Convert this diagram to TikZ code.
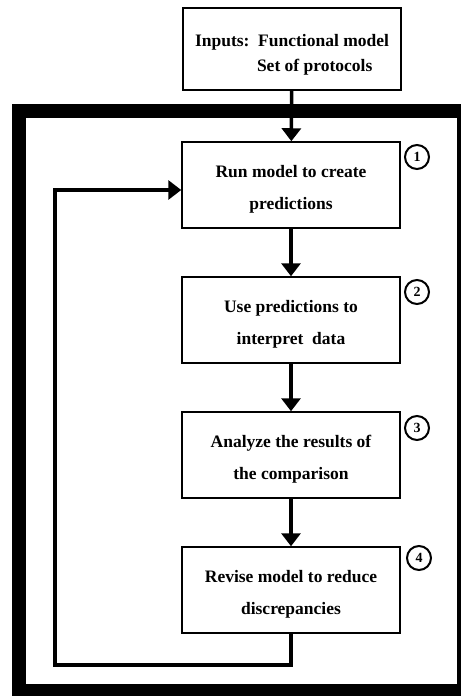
\documentclass[tikz,border=0pt]{standalone}
\usepackage{fontspec}
\setmainfont{Liberation Serif}
\usetikzlibrary{arrows.meta}

% pushes the text of a box a little down
\newcommand{\dropline}{\rule{0pt}{20pt}}

\tikzset{
  stepbox/.style={draw, line width=1.5pt, minimum width=218pt, minimum height=86pt,
    align=center, font=\bfseries\fontsize{17.5}{32}\selectfont},
  flow/.style={line width=3.5pt, -{Triangle[width=19pt,length=13pt]}},
  stepnum/.style={circle, draw, line width=2pt, inner sep=0pt, minimum size=24pt,
    font=\bfseries\fontsize{14}{14}\selectfont}
}

\begin{document}
\begin{tikzpicture}[x=1pt, y=-1pt]
    \useasboundingbox (0,0) rectangle (461,696);

    % Heavy frame round the loop
    \fill[black] (12,104) rectangle (461,696);
    \fill[white] (26,118) rectangle (457,684);

    % Input box
    \node[stepbox, minimum height=82pt, font=\bfseries\fontsize{17.5}{25}\selectfont, align=left]
      (inputs) at (292,49)
      {\rule{0pt}{24pt}Inputs:\ \ Functional model\\ \hspace*{62pt}Set of protocols};

    % Steps of the loop
    \node[stepbox] (run) at (291,185) {\dropline Run model to create\\predictions};
    \node[stepbox] (use) at (291,320) {\dropline Use predictions to\\interpret\ \ data};
    \node[stepbox] (analyze) at (291,455) {\dropline Analyze the results of\\the comparison};
    \node[stepbox] (revise) at (291,590) {\dropline Revise model to reduce\\discrepancies};

    % Step numbers
    \node[stepnum] (n1) at (417,157) {1};
    \node[stepnum] (n2) at (417,292) {2};
    \node[stepnum] (n3) at (417,428) {3};
    \node[stepnum] (n4) at (419,558) {4};

    % Arrows down the column
    \draw[flow] (inputs) -- (run);
    \draw[flow] (run) -- (use);
    \draw[flow] (use) -- (analyze);
    \draw[flow] (analyze) -- (revise);

    % Feedback from step 4 back to step 1
    \coordinate (low) at (291,665);
    \coordinate (left) at (55,665);
    \coordinate (top) at (55,190);
    \draw[flow] (revise.south) -- (low) -- (left) -- (top) -- (top -| run.west);
\end{tikzpicture}
\end{document}
